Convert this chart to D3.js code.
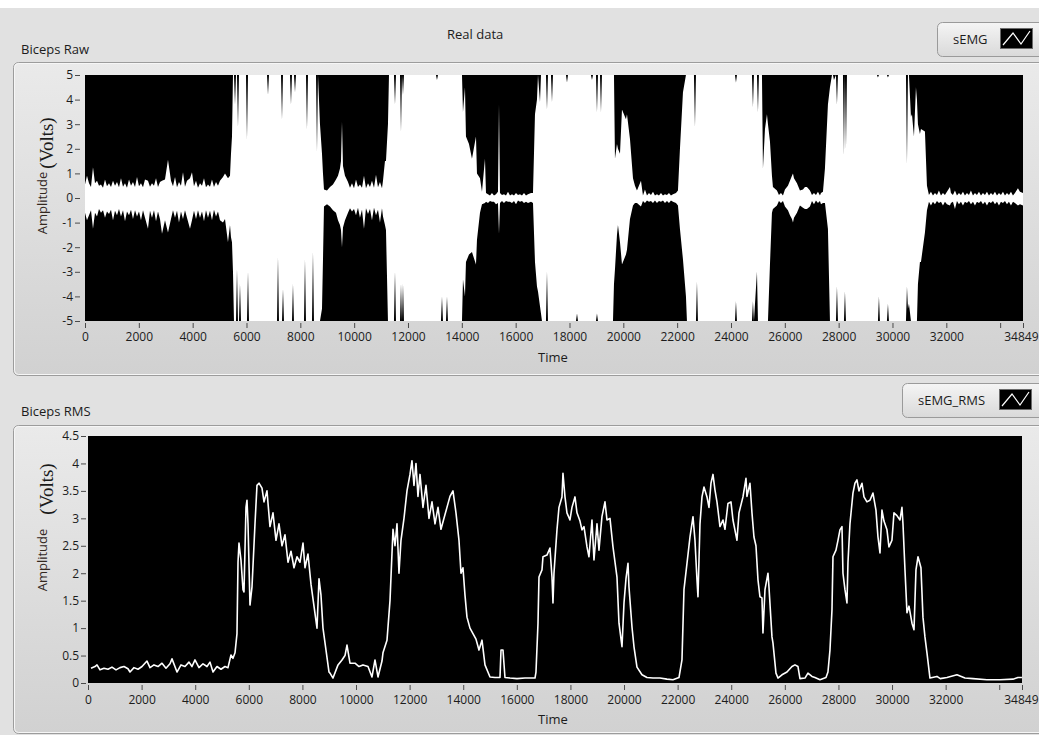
<!DOCTYPE html>
<html>
<head>
<meta charset="utf-8">
<script src="https://cdn.jsdelivr.net/npm/d3@7"></script>
<style>
  body { margin: 0; background: #e1e1e1; overflow: hidden; }
  svg { display: block; font-family: "Open Sans", sans-serif; }
</style>
</head>
<body>
<script>
'use strict';

// x ticks shared by both graphs (34000 carries no label, as in LabVIEW)
const timeTicks = [0, 2000, 4000, 6000, 8000, 10000, 12000, 14000, 16000, 18000,
  20000, 22000, 24000, 26000, 28000, 30000, 32000, 34000, 34849];
const rawTicks = [-5, -4, -3, -2, -1, 0, 1, 2, 3, 4, 5];
const rmsTicks = [0, 0.5, 1, 1.5, 2, 2.5, 3, 3.5, 4, 4.5];

// raw sEMG drawn as min/max envelope: [sample, min, max]
const rawEnvelope = [
  [0, -0.6, 0.55], [74, -0.9, 0.9], [149, -0.7, 0.6], [297, -1.25, 1.25], [372, -0.6, 0.6],
  [446, -0.75, 0.7], [594, -0.6, 0.55], [743, -0.8, 0.75], [892, -0.65, 0.6], [1040, -0.9, 0.7],
  [1189, -0.7, 0.65], [1337, -0.75, 0.8], [1486, -0.95, 0.6], [1635, -0.7, 0.75], [1783, -0.85, 0.65],
  [1932, -0.75, 0.85], [2080, -0.9, 0.6], [2229, -0.8, 0.75], [2340, -1.25, 0.7], [2489, -0.8, 0.6],
  [2638, -0.95, 0.8], [2786, -0.85, 0.65], [2861, -1.45, 0.7], [2972, -0.9, 0.75], [3083, -1.4, 1.55],
  [3195, -0.85, 0.7], [3344, -0.8, 0.85], [3492, -1.0, 0.65], [3641, -0.85, 1.05], [3789, -0.8, 0.7],
  [3901, -1.25, 0.8], [3975, -0.9, 1.05], [4124, -0.85, 0.7], [4272, -0.8, 0.6], [4421, -0.95, 0.8],
  [4569, -0.8, 0.55], [4718, -0.9, 0.75], [4867, -0.75, 0.65], [5015, -0.9, 0.7], [5127, -1.0, 0.85],
  [5201, -0.85, 1.0], [5312, -1.8, 0.8], [5387, -1.1, 0.9], [5424, -1.6, 1.8], [5461, -1.8, 2.5],
  [5498, -3.0, 5], [5535, -5, 5],
  [5573, -5, 3.8], [5610, -5, 5], [5647, -2.9, 5], [5684, -5, 2.9], [5721, -5, 5], [5758, -3.5, 5],
  [5796, -5, 5], [5981, -5, 5], [6018, -5, 2.4], [6056, -3.0, 5], [6093, -5, 5], [6762, -5, 5],
  [6799, -5, 4.2], [6836, -5, 5], [7133, -5, 5], [7170, -2.4, 5], [7207, -5, 5], [7282, -5, 5],
  [7319, -5, 3.2], [7356, -3.7, 5], [7393, -5, 5], [7616, -5, 5], [7653, -5, 3.8], [7690, -5, 5],
  [7727, -3.5, 5], [7764, -5, 5], [7802, -5, 4.3], [7839, -5, 5], [8136, -5, 5], [8173, -2.5, 5],
  [8210, -5, 5], [8247, -5, 2.8], [8285, -5, 5], [8433, -5, 5], [8470, -2.2, 5], [8507, -5, 5],
  [8582, -5, 5], [8619, -5, 1.9], [8656, -5, 5], [8730, -5, 3.0], [8805, -4.5, 1.8], [8842, -2.5, 1.0],
  [8879, -0.35, 0.35],
  [8991, -0.25, 0.3], [9102, -0.35, 0.45], [9213, -0.5, 0.55], [9325, -0.6, 0.75], [9399, -0.9, 0.9],
  [9473, -1.1, 1.2], [9511, -1.3, 1.5], [9548, -2.0, 3.1], [9585, -1.2, 1.3], [9659, -0.9, 0.9],
  [9771, -0.6, 0.65], [9919, -0.55, 0.6], [10068, -0.7, 0.75], [10216, -0.8, 0.55], [10365, -1.25, 0.9],
  [10514, -0.65, 0.6], [10662, -0.9, 0.7], [10811, -0.7, 0.95], [10959, -1.0, 0.65], [11071, -0.75, 0.7],
  [11145, -1.1, 1.5], [11182, -1.3, 1.5], [11256, -5, 3.0], [11294, -5, 5],
  [11479, -5, 5], [11517, -3.0, 3.8], [11554, -5, 5], [11703, -5, 5], [11740, -3.5, 2.7], [11777, -5, 5],
  [11814, -3.5, 4.2], [11851, -5, 5], [13040, -5, 5], [13077, -5, 4.8], [13114, -5, 5], [13225, -5, 5],
  [13263, -4.0, 5], [13300, -5, 5], [13411, -5, 5], [13449, -4.0, 5], [13486, -5, 5], [14006, -5, 5],
  [14043, -3.3, 3.5], [14117, -4.0, 4.5], [14154, -2.6, 2.5], [14266, -2.3, 2.2], [14377, -2.2, 1.6],
  [14526, -2.7, 2.5], [14563, -1.7, 1.0], [14675, -0.6, 0.8], [14749, -0.25, 0.25],
  [14860, -0.2, 1.6], [14898, -0.15, 0.2], [14972, -0.2, 0.15], [15120, -0.15, 0.2], [15269, -0.25, 0.15],
  [15343, -0.2, 0.25], [15381, -1.45, 3.8], [15418, -0.2, 0.2], [15566, -0.2, 0.15], [15715, -0.15, 0.25],
  [15864, -0.2, 0.15], [16012, -0.25, 0.2], [16161, -0.15, 0.15], [16310, -0.2, 0.2], [16458, -0.2, 0.15],
  [16570, -0.15, 0.2], [16644, -0.2, 0.2], [16718, -2.6, 3.4], [16792, -3.6, 4.0], [16830, -3.8, 5],
  [16904, -4.4, 3.9], [16941, -4.7, 5], [16978, -5, 5],
  [17126, -5, 5], [17164, -3.0, 3.6], [17201, -5, 5], [17312, -5, 5], [17350, -5, 3.9], [17387, -5, 5],
  [17870, -5, 5], [17907, -5, 4.7], [17944, -5, 5], [18241, -5, 5], [18279, -4.7, 5], [18316, -5, 5],
  [18798, -5, 5], [18836, -5, 4.8], [18873, -5, 5], [18984, -5, 5], [19021, -4.7, 3.5], [19059, -5, 5],
  [19133, -5, 5], [19170, -5, 3.5], [19207, -5, 5], [19616, -5, 5], [19653, -3.5, 5], [19690, -2.9, 1.6],
  [19764, -1.5, 2.2], [19801, -1.1, 2.0], [19876, -1.8, 1.8], [19950, -2.7, 3.6], [20098, -2.3, 3.2],
  [20136, -2.1, 3.4], [20247, -0.85, 2.4], [20359, -0.3, 0.8], [20433, -0.2, 0.5], [20507, -0.2, 0.3],
  [20656, -0.35, 0.7], [20804, -0.2, 0.35], [20953, -0.15, 0.2], [21102, -0.2, 0.25], [21250, -0.2, 0.15],
  [21399, -0.15, 0.2], [21547, -0.2, 0.15], [21696, -0.2, 0.2], [21845, -0.15, 0.15], [21956, -0.2, 0.2],
  [22030, -0.3, 0.3], [22104, -1.26, 2.0], [22216, -2.5, 4.3], [22327, -4.0, 5], [22364, -5, 5],
  [22624, -5, 5], [22662, -5, 2.9], [22699, -5, 5], [22736, -3.4, 5], [22773, -5, 5], [24148, -5, 5],
  [24185, -4.2, 4.7], [24222, -5, 5], [24779, -5, 5], [24816, -4.2, 3.7], [24853, -5, 5], [24965, -3.0, 5],
  [25002, -5, 3.5], [25039, -5, 5], [25151, -5, 5], [25188, -5, 1.2], [25263, -5, 2.8], [25336, -5, 3.4],
  [25374, -5, 3.0], [25448, -2.7, 2.3], [25522, -0.6, 0.9], [25559, -0.45, 0.45],
  [25708, -0.3, 0.3], [25857, -0.2, 0.2], [26005, -0.35, 0.35], [26116, -0.5, 0.5], [26191, -0.7, 0.7],
  [26265, -0.85, 0.9], [26303, -1.0, 1.0], [26340, -0.8, 0.8], [26451, -0.6, 0.6], [26562, -0.3, 0.3],
  [26674, -0.4, 0.35], [26748, -0.45, 0.45], [26822, -0.45, 0.45], [26934, -0.35, 0.3], [27083, -0.25, 0.2],
  [27231, -0.2, 0.25], [27343, -0.25, 0.2], [27417, -0.2, 0.25], [27491, -0.2, 1.2], [27602, -1.26, 3.8],
  [27677, -5, 4.5], [27752, -5, 5],
  [27789, -5, 5], [27826, -5, 4.8], [27900, -5, 5], [27937, -3.6, 3.8], [27975, -5, 5], [28160, -5, 5],
  [28197, -5, 1.75], [28234, -3.8, 5], [28272, -5, 2.0], [28309, -5, 5], [29423, -5, 5], [29460, -5, 4.9],
  [29497, -4.0, 5], [29534, -5, 5], [29794, -5, 5], [29832, -4.3, 4.9], [29869, -5, 5], [30501, -5, 5],
  [30538, -3.6, 1.4], [30575, -4.5, 5], [30612, -4.3, 5], [30686, -5, 3.3], [30724, -5, 3.4],
  [30798, -5, 2.5], [30872, -5, 4.5], [30909, -5, 4.0], [30946, -3.5, 3.0], [31020, -2.6, 2.6],
  [31058, -2.6, 2.8], [31206, -1.4, 2.7], [31281, -0.5, 0.5],
  [31429, -0.3, 0.25], [31578, -0.25, 0.2], [31726, -0.2, 0.3], [31875, -0.3, 0.2], [32023, -0.25, 0.25],
  [32135, -0.3, 0.45], [32172, -0.2, 0.2], [32321, -0.45, 0.3], [32469, -0.25, 0.2], [32618, -0.3, 0.25],
  [32767, -0.2, 0.2], [32915, -0.25, 0.3], [33064, -0.3, 0.2], [33213, -0.2, 0.25], [33361, -0.25, 0.2],
  [33510, -0.3, 0.25], [33658, -0.2, 0.2], [33807, -0.25, 0.25], [33956, -0.3, 0.2], [34104, -0.2, 0.25],
  [34253, -0.25, 0.2], [34402, -0.3, 0.25], [34550, -0.2, 0.2], [34661, -0.3, 0.4], [34736, -0.25, 0.25],
  [34849, -0.3, 0.2]
];

// inner edge of the noise band between the spikes of the quiet stretches: [sample, min, max]
const rawValleys = [
  [223, -0.5, 0.45], [520, -0.45, 0.5], [669, -0.5, 0.42], [817, -0.55, 0.48], [966, -0.48, 0.45],
  [1115, -0.52, 0.5], [1263, -0.45, 0.44], [1412, -0.5, 0.46], [1560, -0.55, 0.42], [1709, -0.48, 0.5],
  [1858, -0.5, 0.45], [2006, -0.55, 0.48], [2155, -0.5, 0.44], [2415, -0.52, 0.46], [2563, -0.5, 0.5],
  [2712, -0.55, 0.45], [3269, -0.5, 0.48], [3418, -0.52, 0.44], [3566, -0.55, 0.5], [3715, -0.5, 0.46],
  [4049, -0.52, 0.48], [4198, -0.5, 0.42], [4347, -0.55, 0.5], [4495, -0.5, 0.44], [4644, -0.52, 0.46],
  [4792, -0.48, 0.45], [4941, -0.55, 0.5],
  [9845, -0.42, 0.42], [9994, -0.45, 0.4], [10142, -0.4, 0.45], [10291, -0.48, 0.42], [10439, -0.42, 0.4],
  [10588, -0.45, 0.45], [10737, -0.4, 0.42], [10885, -0.48, 0.44], [11034, -0.42, 0.4],
  [15046, -0.12, 0.1], [15195, -0.15, 0.1], [15492, -0.12, 0.12], [15641, -0.12, 0.1], [15790, -0.15, 0.1],
  [15938, -0.12, 0.1], [16087, -0.1, 0.12], [16235, -0.12, 0.1], [16384, -0.15, 0.1],
  [20730, -0.12, 0.1], [20879, -0.1, 0.1], [21027, -0.12, 0.12], [21176, -0.1, 0.1], [21324, -0.12, 0.1],
  [21473, -0.1, 0.1], [21622, -0.12, 0.12], [21770, -0.1, 0.1],
  [25782, -0.12, 0.12], [25931, -0.12, 0.1], [27009, -0.12, 0.12], [27157, -0.1, 0.12], [27306, -0.12, 0.1],
  [31355, -0.15, 0.12], [31504, -0.15, 0.1], [31652, -0.12, 0.12], [31801, -0.15, 0.1], [31949, -0.15, 0.12],
  [32246, -0.15, 0.12], [32395, -0.12, 0.1], [32544, -0.15, 0.12], [32692, -0.15, 0.1], [32841, -0.12, 0.12],
  [32990, -0.15, 0.1], [33138, -0.15, 0.12], [33287, -0.12, 0.1], [33436, -0.15, 0.12], [33584, -0.15, 0.1],
  [33733, -0.12, 0.12], [33882, -0.15, 0.1], [34030, -0.15, 0.12], [34179, -0.12, 0.1], [34327, -0.15, 0.12],
  [34476, -0.15, 0.1]
];

// RMS of the same signal: [sample, volts]
const rmsSeries = [
  [112, 0.27], [261, 0.3], [336, 0.33], [448, 0.24], [597, 0.27], [746, 0.25], [895, 0.29], [1045, 0.24],
  [1194, 0.28], [1343, 0.3], [1492, 0.26], [1567, 0.2], [1716, 0.28], [1866, 0.25], [2015, 0.3],
  [2201, 0.4], [2313, 0.28], [2462, 0.33], [2612, 0.3], [2761, 0.36], [2910, 0.27], [3059, 0.35],
  [3134, 0.44], [3321, 0.2], [3470, 0.33], [3619, 0.3], [3768, 0.38], [3880, 0.3], [3992, 0.42],
  [4141, 0.28], [4291, 0.35], [4440, 0.3], [4552, 0.38], [4664, 0.2], [4813, 0.3], [4962, 0.25],
  [5111, 0.3], [5223, 0.28], [5335, 0.51], [5410, 0.45], [5485, 0.55],
  [5559, 0.9], [5597, 2.2], [5634, 2.55], [5708, 2.24], [5783, 1.7], [5820, 1.66], [5895, 3.2],
  [5932, 3.33], [5970, 2.9], [6044, 1.42], [6119, 1.75], [6231, 2.9], [6305, 3.6], [6380, 3.64],
  [6492, 3.55], [6567, 3.3], [6678, 3.5], [6790, 2.85], [6902, 3.1], [7014, 2.6], [7126, 2.9],
  [7238, 2.5], [7350, 2.7], [7462, 2.2], [7574, 2.4], [7686, 2.1], [7798, 2.3], [7910, 2.2],
  [8022, 2.55], [8096, 2.1], [8208, 2.35], [8320, 1.8], [8432, 1.4], [8544, 1.0], [8619, 1.9],
  [8693, 1.6], [8768, 1.0], [8880, 0.6], [8992, 0.2], [9029, 0.18], [9141, 0.09], [9328, 0.33],
  [9477, 0.42], [9589, 0.5], [9663, 0.69], [9775, 0.36], [9962, 0.36], [10111, 0.3], [10260, 0.33],
  [10447, 0.3], [10596, 0.11], [10708, 0.42], [10820, 0.11], [10969, 0.4], [11006, 0.55], [11156, 0.78],
  [11268, 1.5], [11380, 2.8], [11454, 2.5], [11529, 2.9], [11603, 2.0], [11678, 2.6], [11790, 3.0],
  [11902, 3.5], [12014, 3.8], [12088, 4.05], [12163, 3.6], [12238, 4.0], [12312, 3.4], [12387, 3.8],
  [12499, 3.2], [12611, 3.6], [12723, 3.0], [12835, 3.3], [12947, 2.9], [13059, 3.2], [13170, 2.8],
  [13282, 3.0], [13394, 3.2], [13506, 3.4], [13618, 3.5], [13730, 3.1], [13842, 2.6], [13917, 2.0],
  [13991, 2.1], [14066, 1.6], [14140, 1.2], [14252, 1.0], [14364, 0.9], [14476, 0.8], [14588, 0.6],
  [14700, 0.78], [14812, 0.33], [14999, 0.11], [15185, 0.1], [15372, 0.1], [15410, 0.6], [15484, 0.6],
  [15558, 0.1], [15745, 0.09], [16006, 0.08], [16304, 0.09], [16678, 0.09],
  [16715, 0.2], [16790, 1.09], [16827, 1.93], [16939, 2.06], [16976, 2.3], [17125, 2.33], [17237, 2.46],
  [17312, 1.93], [17349, 1.46], [17386, 2.0], [17498, 2.79], [17573, 3.2], [17685, 3.39], [17722, 3.82],
  [17797, 3.39], [17871, 3.1], [17983, 2.97], [18058, 3.2], [18170, 3.39], [18245, 3.1], [18357, 2.95],
  [18431, 2.79], [18506, 2.85], [18618, 2.48], [18692, 2.3], [18804, 2.97], [18879, 2.24], [18991, 2.9],
  [19065, 2.42], [19177, 3.03], [19289, 3.3], [19364, 2.97], [19476, 3.0], [19588, 2.48], [19737, 1.93],
  [19812, 1.09], [19924, 0.66], [19999, 1.46], [20073, 1.9], [20148, 2.18], [20185, 1.75], [20297, 1.02],
  [20372, 0.66], [20483, 0.29], [20670, 0.15], [20856, 0.1], [21080, 0.09], [21341, 0.09], [21602, 0.07],
  [21826, 0.06], [22050, 0.1],
  [22162, 0.42], [22237, 1.7], [22349, 2.18], [22461, 2.66], [22573, 3.03], [22647, 2.6], [22722, 1.88],
  [22759, 1.57], [22834, 2.9], [22909, 3.39], [22983, 3.57], [23095, 3.39], [23170, 3.2], [23244, 3.64],
  [23319, 3.8], [23393, 3.52], [23468, 3.3], [23580, 2.85], [23692, 2.97], [23766, 2.8], [23878, 3.27],
  [23990, 3.3], [24065, 2.97], [24214, 2.6], [24289, 3.1], [24438, 3.39], [24550, 3.73], [24587, 3.4],
  [24699, 3.64], [24774, 3.1], [24848, 2.66], [24923, 2.5], [24998, 1.88], [25072, 1.57], [25147, 1.55],
  [25184, 0.91], [25259, 1.7], [25371, 2.0], [25408, 1.75], [25520, 0.84], [25557, 0.73], [25669, 0.18],
  [25744, 0.09], [25893, 0.15], [26080, 0.2], [26266, 0.3], [26378, 0.33], [26490, 0.3], [26565, 0.08],
  [26751, 0.09], [26863, 0.18], [27012, 0.12], [27124, 0.1], [27311, 0.06], [27535, 0.1],
  [27609, 0.2], [27684, 0.6], [27759, 1.33], [27796, 2.3], [27908, 2.42], [27983, 2.6], [28057, 2.79],
  [28132, 2.85], [28169, 2.0], [28244, 1.7], [28318, 1.46], [28356, 2.2], [28430, 2.9], [28542, 3.46],
  [28617, 3.64], [28691, 3.7], [28766, 3.5], [28878, 3.64], [28953, 3.39], [29064, 3.3], [29176, 3.33],
  [29288, 3.46], [29400, 3.15], [29475, 2.66], [29550, 2.37], [29624, 3.15], [29699, 2.95], [29811, 2.79],
  [29885, 2.48], [29997, 2.6], [30072, 3.1], [30184, 3.05], [30296, 2.97], [30370, 3.2], [30408, 2.9],
  [30483, 2.06], [30557, 1.28], [30632, 1.4], [30744, 1.09], [30819, 0.97], [30893, 2.06], [30968, 2.3],
  [31079, 2.1], [31154, 1.2], [31228, 0.84], [31303, 0.55], [31415, 0.09],
  [31676, 0.12], [31800, 0.08], [32049, 0.1], [32422, 0.15], [32721, 0.09], [33019, 0.08], [33541, 0.06],
  [34026, 0.06], [34512, 0.07], [34698, 0.1], [34847, 0.1]
];

const width = 1039, height = 735;
const textColor = '#1c1c1c';

const svg = d3.select('body').append('svg')
  .attr('width', width)
  .attr('height', height);

const defs = svg.append('defs');

function addGradient(id, top, bottom) {
  let grad = defs.append('linearGradient')
    .attr('id', id)
    .attr('x1', 0).attr('y1', 0)
    .attr('x2', 0).attr('y2', 1);
  grad.append('stop').attr('offset', '0%').attr('stop-color', top);
  grad.append('stop').attr('offset', '100%').attr('stop-color', bottom);
}

addGradient('panelFill', '#eaeaea', '#d1d1d1');
addGradient('legendFill', '#f5f5f5', '#d9d9d9');

// window background, white strip across the top
svg.append('rect').attr('width', width).attr('height', height).attr('fill', '#e1e1e1');
svg.append('rect').attr('width', width).attr('height', 8).attr('fill', '#ffffff');

function drawPanel(y, h) {
  svg.append('rect')
    .attr('x', 13.5).attr('y', y + 0.5)
    .attr('width', 1040).attr('height', h)
    .attr('rx', 5)
    .attr('fill', 'url(#panelFill)')
    .attr('stroke', '#9c9c9c');
  svg.append('rect')
    .attr('x', 14.5).attr('y', y + 1.5)
    .attr('width', 1040).attr('height', h - 2)
    .attr('rx', 4)
    .attr('fill', 'none')
    .attr('stroke', '#f6f6f6');
}

function drawLegend(x, y, w, label, iconX) {
  svg.append('rect')
    .attr('x', x + 0.5).attr('y', y + 0.5)
    .attr('width', w).attr('height', 34)
    .attr('rx', 5)
    .attr('fill', 'url(#legendFill)')
    .attr('stroke', '#9a9a9a');
  svg.append('text')
    .attr('x', x + 16).attr('y', y + 22)
    .attr('font-size', 13)
    .attr('fill', textColor)
    .text(label);
  svg.append('rect')
    .attr('x', iconX + 0.5).attr('y', y + 6.5)
    .attr('width', 32).attr('height', 20)
    .attr('fill', '#000')
    .attr('stroke', '#6a6a6a');
  let iy = y + 6;
  svg.append('polyline')
    .attr('points', [[iconX + 3, iy + 17], [iconX + 13, iy + 5], [iconX + 21, iy + 16], [iconX + 30, iy + 3]].join(' '))
    .attr('fill', 'none')
    .attr('stroke', '#fff')
    .attr('stroke-width', 1.2);
}

function drawGraph(opt) {
  let xScale = d3.scaleLinear().domain([0, 34849]).range([opt.left, opt.right]);
  let yScale = d3.scaleLinear().domain(opt.yDomain).range([opt.bottom, opt.top]);

  svg.append('rect')
    .attr('x', opt.left).attr('y', opt.top)
    .attr('width', opt.right - opt.left).attr('height', opt.bottom - opt.top)
    .attr('fill', '#000');

  let clipId = 'clip-' + opt.name;
  defs.append('clipPath').attr('id', clipId)
    .append('rect')
    .attr('x', opt.left).attr('y', opt.top)
    .attr('width', opt.right - opt.left).attr('height', opt.bottom - opt.top);

  let plot = svg.append('g').attr('clip-path', 'url(#' + clipId + ')');
  opt.draw(plot, xScale, yScale);

  let xAxis = d3.axisBottom(xScale)
    .tickValues(timeTicks)
    .tickSize(5)
    .tickPadding(opt.xPad)
    .tickFormat(d => d === 34000 ? '' : String(d));
  let gx = svg.append('g')
    .attr('transform', 'translate(0,' + opt.xAxisY + ')')
    .call(xAxis);

  // last label sits flush with the window edge
  gx.selectAll('.tick text')
    .filter(d => d === 34849)
    .attr('text-anchor', 'end')
    .attr('x', 1038 - xScale(34849));

  let yAxis = d3.axisLeft(yScale)
    .tickValues(opt.yTicks)
    .tickSize(5)
    .tickPadding(2)
    .tickFormat(d => String(d));
  let gy = svg.append('g')
    .attr('transform', 'translate(' + opt.yAxisX + ',0)')
    .call(yAxis);

  [gx, gy].forEach(g => {
    g.attr('font-family', '"Open Sans", sans-serif').attr('font-size', 12);
    g.select('.domain').remove();
    g.selectAll('.tick line').attr('stroke', '#4a4a4a');
    g.selectAll('.tick text').attr('fill', textColor);
  });

  svg.append('text')
    .attr('x', 538).attr('y', opt.timeY)
    .attr('font-size', 13)
    .attr('fill', textColor)
    .text('Time');

  svg.append('text')
    .attr('transform', 'translate(47,' + opt.ampY + ') rotate(-90)')
    .attr('text-anchor', 'middle')
    .attr('font-size', 13)
    .attr('fill', '#33281f')
    .text('Amplitude');
  svg.append('text')
    .attr('transform', 'translate(53,' + opt.voltY + ') rotate(-90)')
    .attr('text-anchor', 'middle')
    .attr('font-family', '"Liberation Serif", "Times New Roman", serif')
    .attr('font-size', 19)
    .attr('fill', '#1a1a1a')
    .text('(Volts)');
}

function makeLabels() {
  svg.append('text').attr('x', 447).attr('y', 39)
    .attr('font-size', 13).attr('fill', textColor).text('Real data');
  svg.append('text').attr('x', 21).attr('y', 54)
    .attr('font-size', 13).attr('fill', textColor).text('Biceps Raw');
  svg.append('text').attr('x', 21).attr('y', 416)
    .attr('font-size', 13).attr('fill', textColor).text('Biceps RMS');
}

drawPanel(62, 313);
drawPanel(425, 308);
makeLabels();
drawLegend(937, 22, 120, 'sEMG', 1000);
drawLegend(902, 383, 160, 'sEMG_RMS', 999);

// spikes and valleys merged into one envelope, ordered by sample
const rawTable = rawEnvelope.concat(rawValleys).sort((a, b) => a[0] - b[0]);

drawGraph({
  name: 'raw',
  left: 85, right: 1023, top: 75, bottom: 321,
  yDomain: [-5, 5], yTicks: rawTicks,
  xAxisY: 323, xPad: 4, yAxisX: 80,
  timeY: 362, ampY: 203, voltY: 143,
  draw: (g, x, y) => {
    g.append('path')
      .datum(rawTable)
      .attr('fill', '#fff')
      .attr('d', d3.area()
        .x(d => x(d[0]))
        .y0(d => y(d[1]))
        .y1(d => y(d[2])));
  }
});

drawGraph({
  name: 'rms',
  left: 88, right: 1022, top: 436, bottom: 683,
  yDomain: [0, 4.5], yTicks: rmsTicks,
  xAxisY: 685, xPad: 5.5, yAxisX: 86,
  timeY: 724, ampY: 560, voltY: 489,
  draw: (g, x, y) => {
    g.append('path')
      .datum(rmsSeries)
      .attr('fill', 'none')
      .attr('stroke', '#fff')
      .attr('stroke-width', 1.6)
      .attr('stroke-linejoin', 'round')
      .attr('d', d3.line()
        .x(d => x(d[0]))
        .y(d => y(d[1])));
  }
});
</script>
</body>
</html>
